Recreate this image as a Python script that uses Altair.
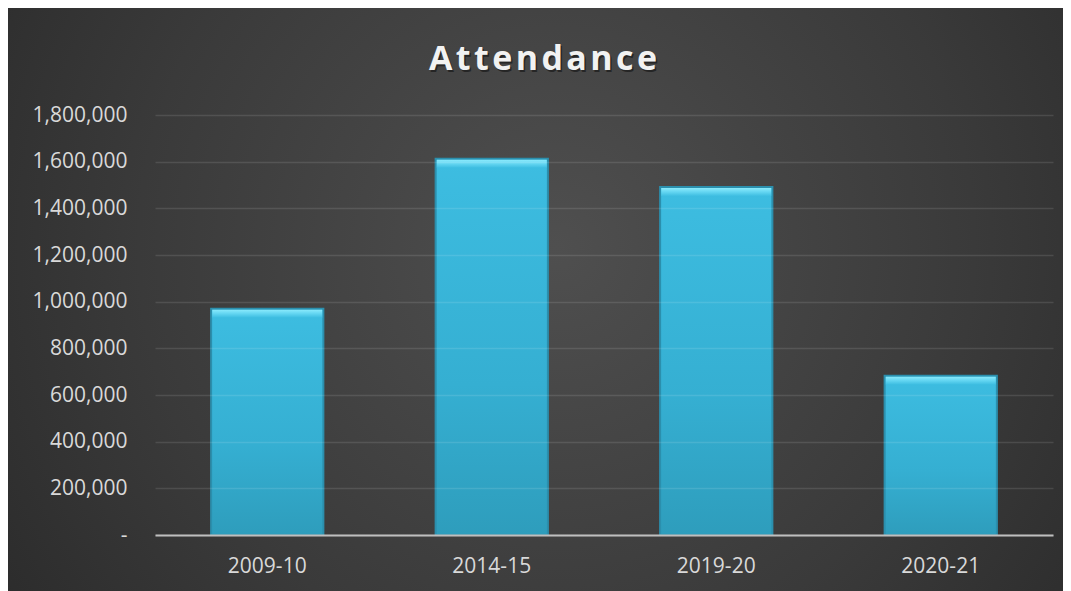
import altair as alt
import pandas as pd

seasons = ["2009-10", "2014-15", "2019-20", "2020-21"]
attendance = [970000, 1612000, 1491000, 683000]
y_ticks = [0, 200000, 400000, 600000, 800000, 1000000, 1200000, 1400000, 1600000, 1800000]
title_text = "Attendance"

df = pd.DataFrame({"season": seasons, "attendance": attendance})
one = pd.DataFrame({"k": [0]})

W, H = 898, 420
PAD = {"left": 147, "top": 107, "right": 10, "bottom": 56}

bg_grad = alt.RadialGradient(
    gradient="radial",
    stops=[alt.GradientStop(color="#4f4f4f", offset=0),
           alt.GradientStop(color="#3a3a3a", offset=0.55),
           alt.GradientStop(color="#262626", offset=1)],
    x1=0.52, y1=0.45, x2=0.52, y2=0.45, r1=0, r2=0.72,
)

bar_grad = alt.LinearGradient(
    gradient="linear",
    stops=[alt.GradientStop(color="#3dbde1", offset=0),
           alt.GradientStop(color="#35afd2", offset=0.6),
           alt.GradientStop(color="#2e9dbc", offset=1)],
    x1=0, x2=0, y1=0, y2=1,
)
bevel_grad = alt.LinearGradient(
    gradient="linear",
    stops=[alt.GradientStop(color="#8aeafc", offset=0),
           alt.GradientStop(color="#62d5f1", offset=0.5),
           alt.GradientStop(color="#3dbde1", offset=1)],
    x1=0, x2=0, y1=0, y2=1,
)

bg = alt.Chart(one).mark_rect(fill=bg_grad, clip=False).encode(
    x=alt.value(-PAD["left"]), x2=alt.value(W + PAD["right"]),
    y=alt.value(-PAD["top"]), y2=alt.value(H + PAD["bottom"]),
)

x_enc = alt.X("season:N", sort=seasons, title=None,
              scale=alt.Scale(paddingInner=0.5, paddingOuter=0.25),
              axis=alt.Axis(labelAngle=0, ticks=False, domain=True, domainColor="#bfbfbf",
                            domainWidth=2, labelColor="#d9d9d9", labelFont="Open Sans",
                            labelFontSize=21, labelPadding=20, grid=False, zindex=2))
y_enc = alt.Y("attendance:Q", title=None,
              scale=alt.Scale(domain=[0, 1800000], nice=False),
              axis=alt.Axis(values=y_ticks, ticks=False, domain=False, labelColor="#d9d9d9",
                            labelFont="Open Sans", labelFontSize=21, labelPadding=28,
                            labelExpr="datum.value == 0 ? '-\u2007' : format(datum.value, ',')",
                            grid=True, gridColor="#ffffff", gridOpacity=0.11, gridWidth=1.4,
                            zindex=1))

bars = alt.Chart(df).mark_bar(fill=bar_grad, stroke="#2b8fad", strokeWidth=2).encode(
    x=x_enc, y=y_enc)

bevel = alt.Chart(df).mark_tick(color=bevel_grad, thickness=8, size=110, yOffset=5,
                                opacity=1).encode(
    x=alt.X("season:N", sort=seasons), y=alt.Y("attendance:Q"))

spaced = "\u200a".join(list(title_text))
title_shadow = alt.Chart(one).mark_text(
    text=spaced, font="Open Sans", fontWeight="bold", fontSize=34, color="#000000",
    opacity=0.45, align="center", baseline="alphabetic", dx=1.5, dy=2).encode(
    x=alt.value(388), y=alt.value(-45))
title_main = alt.Chart(one).mark_text(
    text=spaced, font="Open Sans", fontWeight="bold", fontSize=34, color="#f2f2f2",
    align="center", baseline="alphabetic").encode(
    x=alt.value(388), y=alt.value(-45))

chart = alt.layer(bg, bars, bevel, title_shadow, title_main).properties(
    width=W, height=H, padding=PAD,
    autosize=alt.AutoSizeParams(type="none"),
    background="#2a2a2a",
).configure_view(stroke=None)

chart.save("out.html", embed_options={"renderer": "svg", "actions": False})
